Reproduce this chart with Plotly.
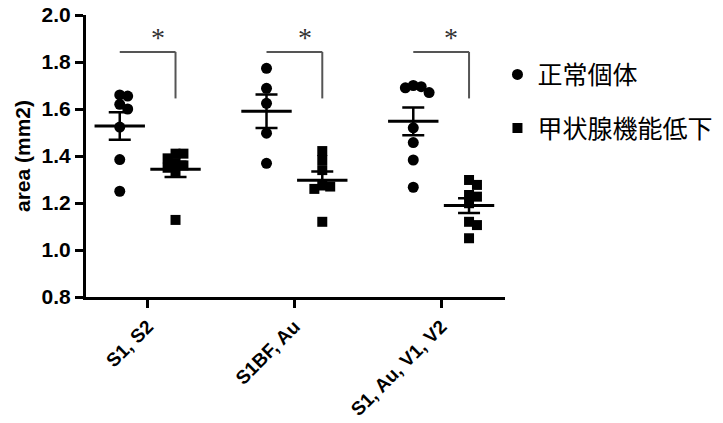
import numpy as np
import plotly.graph_objects as go

categories = ["S1, S2", "S1BF, Au", "S1, Au, V1, V2"]
series_names = ["正常個体", "甲状腺機能低下"]

normal_s1s2 = [1.66, 1.655, 1.62, 1.60, 1.523, 1.385, 1.25]
normal_s1bf = [1.773, 1.688, 1.624, 1.497, 1.369]
normal_v1v2 = [1.70, 1.695, 1.69, 1.67, 1.52, 1.457, 1.383, 1.267]

hypo_s1s2 = [1.41, 1.41, 1.39, 1.37, 1.36, 1.35, 1.33, 1.128]
hypo_s1bf = [1.421, 1.383, 1.34, 1.28, 1.27, 1.26, 1.12]
hypo_v1v2 = [1.298, 1.277, 1.234, 1.227, 1.199, 1.12, 1.106, 1.05]

y_ticks = [0.8, 1.0, 1.2, 1.4, 1.6, 1.8, 2.0]
significance = ["*", "*", "*"]

normal = [normal_s1s2, normal_s1bf, normal_v1v2]
hypo = [hypo_s1s2, hypo_s1bf, hypo_v1v2]

# layout constants
W, H = 723, 423
ML, MT = 86, 15
PW, PH = 419, 282
MR, MB = W - ML - PW, H - MT - PH
X_RANGE = [-0.42, 2.435]
Y_RANGE = [0.8, 2.0]
ppx = PW / (X_RANGE[1] - X_RANGE[0])
ppy = PH / (Y_RANGE[1] - Y_RANGE[0])
GROUP_OFF = 0.19
FONT = "Liberation Sans"


def swarm(vals, diam):
    placed = []
    offs = []
    for v in vals:
        yp = v * ppy
        cands = [0]
        for i in range(1, 12):
            cands += [i * diam * 0.72, -i * diam * 0.72]
        for c in cands:
            if all((c - px) ** 2 + (yp - py) ** 2 >= (diam * 0.7) ** 2 for px, py in placed):
                placed.append((c, yp))
                offs.append(c / ppx)
                break
    return offs


fig = go.Figure()

for si, (data, sym, sign) in enumerate([(normal, "circle", -1), (hypo, "square", 1)]):
    xs, ys = [], []
    mx, my, me = [], [], []
    for ci, vals in enumerate(data):
        center = ci + sign * GROUP_OFF
        offs = swarm(vals, 11)
        xs += [center + o for o in offs]
        ys += vals
        arr = np.array(vals)
        mx.append(center)
        my.append(arr.mean())
        me.append(arr.std(ddof=1) / np.sqrt(len(arr)))
    fig.add_trace(go.Scatter(
        x=xs, y=ys, mode="markers", name=series_names[si],
        legendgroup=series_names[si],
        marker=dict(symbol=sym, size=11 if sym == "circle" else 10, color="black"),
        cliponaxis=False,
    ))
    fig.add_trace(go.Scatter(
        x=mx, y=my, mode="markers", showlegend=False, hoverinfo="skip",
        marker=dict(symbol="line-ew", size=36, line=dict(width=3, color="black"), color="black"),
        error_y=dict(type="data", array=me, visible=True, width=11, thickness=2.5, color="black"),
    ))

# significance brackets
for ci, s in enumerate(significance):
    x0, x1 = ci - GROUP_OFF, ci + GROUP_OFF
    fig.add_shape(type="line", x0=x0, x1=x1, y0=1.843, y1=1.843, xref="x", yref="y",
                  line=dict(color="#555555", width=2))
    fig.add_shape(type="line", x0=x1, x1=x1, y0=1.843, y1=1.645, xref="x", yref="y",
                  line=dict(color="#555555", width=2))
    fig.add_annotation(x=ci + 0.07, y=1.905, text=s, showarrow=False, xref="x", yref="y",
                       font=dict(family="Liberation Serif", size=28, color="#333333"))

fig.update_layout(
    width=W, height=H,
    margin=dict(l=ML, r=MR, t=MT, b=MB, autoexpand=False),
    plot_bgcolor="white", paper_bgcolor="white",
    showlegend=True,
    legend=dict(x=0.982, y=0.87, xanchor="left", yanchor="top",
                xref="paper", yref="paper",
                font=dict(family="Noto Sans CJK JP", size=25, color="black"),
                tracegroupgap=18, bgcolor="rgba(0,0,0,0)"),
    xaxis=dict(range=X_RANGE, tickmode="array", tickvals=[0, 1, 2], ticktext=categories,
               tickangle=-45, showgrid=False, zeroline=False, showline=True, automargin=False,
               linecolor="black", linewidth=3, ticks="outside", ticklen=8, tickwidth=3,
               tickcolor="black",
               tickfont=dict(family=FONT, size=19, color="black", weight="bold")),
    yaxis=dict(range=Y_RANGE, tickmode="array", tickvals=y_ticks,
               ticktext=[f"{v:.1f}" for v in y_ticks], automargin=False,
               showgrid=False, zeroline=False, showline=True,
               linecolor="black", linewidth=3, ticks="outside", ticklen=8, tickwidth=3,
               tickcolor="black",
               title=dict(text="area (mm2)", font=dict(family=FONT, size=21, color="black", weight="bold"),
                          standoff=6),
               tickfont=dict(family=FONT, size=21, color="black", weight="bold")),
)

fig.write_html("out.html", config={"displayModeBar": False},
               post_script="document.body.style.margin='0px';")
